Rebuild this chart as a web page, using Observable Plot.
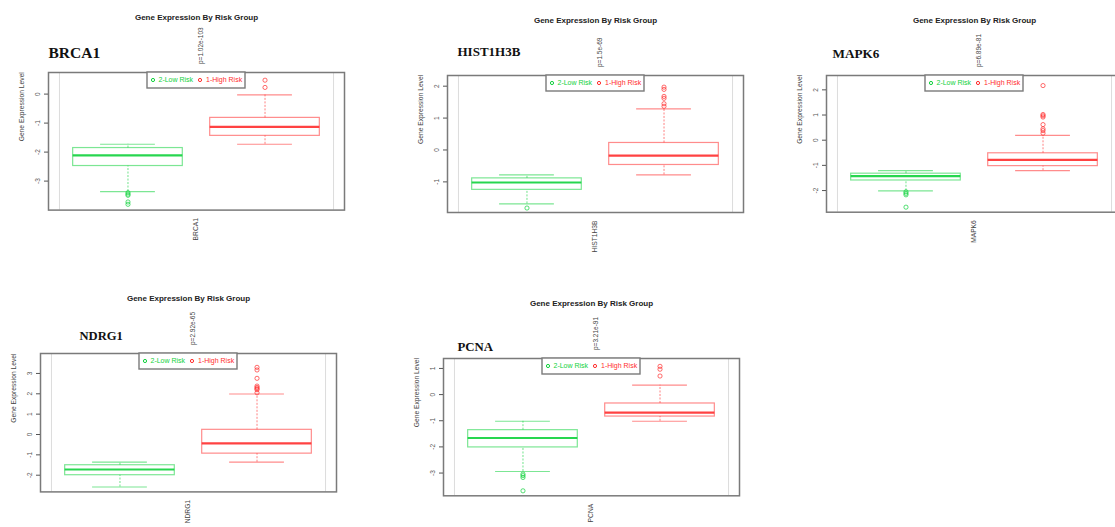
<!DOCTYPE html>
<html>
<head>
<meta charset="utf-8">
<script src="https://cdn.jsdelivr.net/npm/d3@7"></script>
<script src="https://cdn.jsdelivr.net/npm/@observablehq/plot@0.6"></script>
<style>
  html, body { margin: 0; padding: 0; background: #fff; }
  #fig { position: relative; width: 1115px; height: 527px; overflow: hidden; background: #fff; }
  #fig .panel { position: absolute; }
  #fig .panel svg { max-width: none !important; }
</style>
</head>
<body>
<div id="fig"></div>
<script>
// Genes and the test result printed above each panel
const genes = ["BRCA1", "HIST1H3B", "MAPK6", "NDRG1", "PCNA"];
const pValues = ["p=1.02e-103", "p=1.5e-69", "p=6.89e-81", "p=2.92e-65", "p=3.21e-91"];
const groups = ["2-Low Risk", "1-High Risk"];
const plotTitle = "Gene Expression By Risk Group";
const yLabel = "Gene Expression Level";

// Box-plot statistics per gene, as [low risk, high risk]
const lowerWhisker = [[-3.36, -1.73], [-1.69, -0.78], [-2.01, -1.21], [-2.58, -1.36], [-2.94, -1.02]];
const quartile1    = [[-2.48, -1.44], [-1.25, -0.47], [-1.60, -1.03], [-2.00, -0.94], [-2.02, -0.84]];
const medians      = [[-2.11, -1.13], [-1.02, -0.18], [-1.43, -0.78], [-1.72, -0.44], [-1.66, -0.69]];
const quartile3    = [[-1.86, -0.82], [-0.89,  0.22], [-1.33, -0.52], [-1.51,  0.23], [-1.36, -0.34]];
const upperWhisker = [[-1.73, -0.03], [-0.78,  1.29], [-1.21,  0.19], [-1.36,  1.99], [-1.02,  0.36]];

// Points beyond the whiskers
const lowOutliers = [
  [-3.40, -3.45, -3.49, -3.72, -3.80],
  [-1.82],
  [-2.05, -2.11, -2.17, -2.66],
  [],
  [-3.04, -3.10, -3.17, -3.68]
];
const highOutliers = [
  [0.23, 0.48],
  [1.37, 1.45, 1.62, 1.68, 1.90, 1.97],
  [0.28, 0.38, 0.45, 0.62, 0.92, 0.97, 1.02, 2.17],
  [2.05, 2.20, 2.25, 2.31, 2.38, 2.76, 3.17, 3.30],
  [0.71, 0.97, 1.08]
];

// Y-axis ticks per gene
const yTicks = [[-3, -2, -1, 0], [-1, 0, 1, 2], [-2, -1, 0, 1, 2], [-2, -1, 0, 1, 2, 3], [-3, -2, -1, 0, 1]];

// Panel layout: frame placement on the page, y range and gene-name placement
const layout = [
  { left: 48.3,  top: 71.7,  height: 137.6, yDomain: [-4.0, 0.745], nameDx: 0,  nameDy: -14.4, nameSize: 15.5 },
  { left: 447.3, top: 75.3,  height: 137,   yDomain: [-1.96, 2.335], nameDx: 10, nameDy: -19.4, nameSize: 13 },
  { left: 826,   top: 75,    height: 136.7, yDomain: [-2.86, 2.57], nameDx: 6,  nameDy: -17.4, nameSize: 13.2 },
  { left: 40,    top: 353.3, height: 138.4, yDomain: [-2.82, 3.98], nameDx: 39, nameDy: -14,   nameSize: 12.6 },
  { left: 442.7, top: 357.7, height: 137.3, yDomain: [-3.87, 1.38], nameDx: 14, nameDy: -7.4,  nameSize: 12.8 }
];

const FRAME_W = 296;
const M = { left: 40, right: 12, top: 72, bottom: 60 };
const GREEN = "#10d23c";
const RED = "#ff2d2d";
const SANS = "'Liberation Sans', Arial, Helvetica, sans-serif";
const SERIF = "'Liberation Serif', 'Times New Roman', Times, serif";

// Legend box centred on the top edge of the frame
function legendBox() {
  const cx = M.left + FRAME_W / 2;
  const L = cx - 49, T = M.top;
  const g = d3.create("svg:g");
  g.append("rect").attr("x", L).attr("y", T).attr("width", 98).attr("height", 16)
    .attr("fill", "#fff").attr("stroke", "#7a7a7a").attr("stroke-width", 1.4);
  const items = [
    { label: groups[0], color: GREEN, dot: 6, text: 11.5 },
    { label: groups[1], color: RED, dot: 53, text: 59 }
  ];
  for (const it of items) {
    g.append("circle").attr("cx", L + it.dot).attr("cy", T + 8).attr("r", 1.6)
      .attr("fill", "none").attr("stroke", it.color).attr("stroke-width", 1);
    g.append("text").attr("x", L + it.text).attr("y", T + 8).attr("dy", "0.35em")
      .attr("text-anchor", "start")
      .attr("fill", it.color).attr("font-size", 7).attr("font-family", SANS)
      .text(it.label);
  }
  return g.node();
}

const fig = document.getElementById("fig");

genes.forEach((gene, gi) => {
  const lay = layout[gi];
  const boxes = groups.map((group, k) => ({
    group, pos: k + 1,
    lw: lowerWhisker[gi][k], q1: quartile1[gi][k], med: medians[gi][k],
    q3: quartile3[gi][k], uw: upperWhisker[gi][k]
  }));
  const outliers = [
    ...lowOutliers[gi].map(v => ({ group: groups[0], pos: 1, v })),
    ...highOutliers[gi].map(v => ({ group: groups[1], pos: 2, v }))
  ];

  const W = M.left + FRAME_W + M.right;
  const H = Math.round(M.top + lay.height + M.bottom);

  const chart = Plot.plot({
    width: W,
    height: H,
    marginLeft: M.left, marginRight: M.right, marginTop: M.top, marginBottom: H - M.top - lay.height,
    style: { fontFamily: SANS, fontSize: "6.5px", background: "transparent", color: "#444", maxWidth: "none" },
    x: { type: "linear", domain: [0.42, 2.58], axis: null },
    y: { domain: lay.yDomain, axis: null },
    color: { domain: groups, range: [GREEN, RED] },
    marks: [
      Plot.ruleX([0.5, 2.5], { stroke: "#dcdcdc", strokeWidth: 1 }),
      // whiskers
      Plot.ruleX(boxes, { x: "pos", y1: "q3", y2: "uw", stroke: "group", strokeOpacity: 0.6, strokeDasharray: "2,1.5" }),
      Plot.ruleX(boxes, { x: "pos", y1: "lw", y2: "q1", stroke: "group", strokeOpacity: 0.6, strokeDasharray: "2,1.5" }),
      // caps
      Plot.ruleY(boxes, { y: "uw", x1: d => d.pos - 0.2, x2: d => d.pos + 0.2, stroke: "group", strokeOpacity: 0.55, strokeWidth: 1.2 }),
      Plot.ruleY(boxes, { y: "lw", x1: d => d.pos - 0.2, x2: d => d.pos + 0.2, stroke: "group", strokeOpacity: 0.55, strokeWidth: 1.2 }),
      // boxes and medians
      Plot.rect(boxes, { x1: d => d.pos - 0.4, x2: d => d.pos + 0.4, y1: "q1", y2: "q3", fill: "none", stroke: "group", strokeOpacity: 0.55, strokeWidth: 1.2 }),
      Plot.ruleY(boxes, { y: "med", x1: d => d.pos - 0.4, x2: d => d.pos + 0.4, stroke: "group", strokeOpacity: 0.9, strokeWidth: 2.2 }),
      // outliers
      Plot.dot(outliers, { x: "pos", y: "v", r: 2.1, stroke: "group", strokeOpacity: 0.7, strokeWidth: 1, fill: "none" }),
      Plot.frame({ stroke: "#7a7a7a", strokeWidth: 1.5 }),
      Plot.axisY({ ticks: yTicks[gi], tickSize: 4, tickRotate: -90, tickFormat: d => String(d), color: "#555", fontSize: 6.5 }),
      legendBox,
      // y label
      Plot.text([yLabel], { frameAnchor: "left", dx: -27, rotate: -90, fill: "#444", fontSize: 6.7 }),
      // title
      Plot.text([plotTitle], { frameAnchor: "top", dy: -58.5, fill: "#222", fontSize: 8, fontWeight: "bold" }),
      // p-value
      Plot.text([pValues[gi]], { frameAnchor: "top", dx: 2, dy: -8.5, rotate: -90, textAnchor: "start", fill: "#444", fontSize: 6.5 }),
      // gene name
      Plot.text([gene], { frameAnchor: "top-left", dx: lay.nameDx, dy: lay.nameDy, textAnchor: "start", lineAnchor: "bottom", fill: "#111", fontSize: lay.nameSize, fontWeight: "bold", fontFamily: SERIF }),
      // x label
      Plot.text([gene], { frameAnchor: "bottom", dx: 1, dy: 8, rotate: -90, textAnchor: "end", fill: "#444", fontSize: 6.7 })
    ]
  });
  chart.style.maxWidth = "none";

  const wrap = document.createElement("div");
  wrap.className = "panel";
  wrap.style.left = (lay.left - M.left) + "px";
  wrap.style.top = (lay.top - M.top) + "px";
  wrap.style.width = W + "px";
  wrap.style.height = H + "px";
  wrap.appendChild(chart);
  fig.appendChild(wrap);
});
</script>
</body>
</html>
